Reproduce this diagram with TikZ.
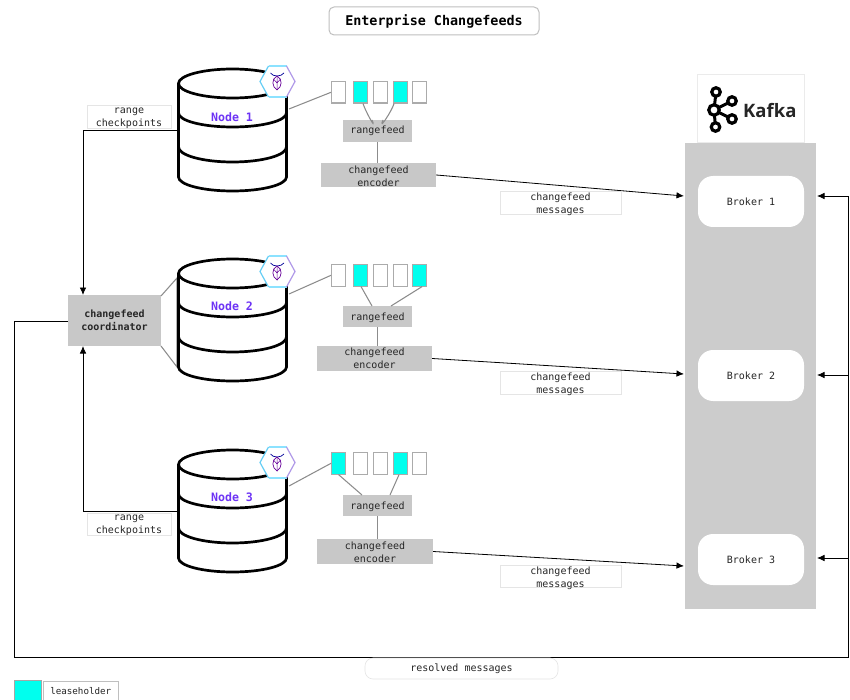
\documentclass[tikz,border=0pt]{standalone}
\usepackage{fontspec}
\setmonofont{DejaVu Sans Mono}
\setmainfont{DejaVu Sans}
\newfontfamily\kafkafont{Open Sans}
\usetikzlibrary{arrows.meta}
\definecolor{panelgray}{HTML}{CCCCCC}
\definecolor{boxgray}{HTML}{C8C8C8}
\definecolor{leasecyan}{HTML}{00FFEE}
\definecolor{nodepurple}{HTML}{6D33F5}
\newcommand{\lift}[1]{\rule{0pt}{#1pt}}
\newcommand{\nudged}[3]{\raisebox{#1pt}[0pt][0pt]{\begin{tabular}{@{}c@{}}#2\\#3\end{tabular}}}
\tikzset{
  x=1pt,y=-1pt,
  pxbox/.style n args={4}{minimum width=#3-#1,minimum height=#4-#2,at={({(#1+#3)/2},{(#2+#4)/2})}},
  mono/.style={font=\ttfamily\fontsize{10}{13}\selectfont,align=center,inner sep=0pt,text=black!85},
  graybox/.style={mono,fill=boxgray,draw=none},
  labelbox/.style={mono,fill=white,draw=black!10,line width=.6pt},
  brokerbox/.style={mono,fill=white,draw=none,rounded corners=15pt},
  rangewhite/.style={draw=black!33,fill=white,line width=1.1pt,inner sep=0pt},
  rangecyan/.style={rangewhite,fill=leasecyan},
  dbline/.style={line width=2.7pt,black},
  linkgray/.style={draw=black!45,line width=1.05pt},
  flow/.style={draw=black,line width=.8pt,-{Latex[length=7.5pt,width=6.5pt]}},
  plainflow/.style={draw=black,line width=.8pt},
  dbname/.style={font=\ttfamily\bfseries\fontsize{11.6}{14}\selectfont,text=nodepurple,inner sep=0pt},
  ring/.style={draw=black,line width=3.2pt,fill=white,circle,inner sep=0pt},
}
\newcommand{\dbstack}[4]{%
  \node[minimum width=108pt,minimum height=122pt,inner sep=0pt] (#1) at (232.5,{130+#2}) {};
  \begin{scope}[shift={(0,#2)}]
    \draw[dbline,line cap=round] (178.5,83.5) -- (178.5,177) arc[start angle=180,end angle=360,x radius=54pt,y radius=14pt] -- (286.5,83.5);
    \draw[dbline] (232.5,83.5) ellipse [x radius=54pt,y radius=14.5pt];
    \draw[dbline] (178.5,113) arc[start angle=180,end angle=360,x radius=54pt,y radius=14pt];
    \draw[dbline] (178.5,147) arc[start angle=180,end angle=360,x radius=54pt,y radius=15pt];
    \fill[white] (260,81.5) -- (268.5,66) -- (286.5,66) -- (295,81.5) -- (286.5,97) -- (268.5,97) -- cycle;
    \draw[color=cyan!60,line width=1.2pt,line join=round] (268.5,97) -- (260,81.5) -- (268.5,66);
    \draw[color=blue!25!cyan!45,line width=1.2pt] (268.5,66) -- (286.5,66);
    \draw[color=blue!25!cyan!45,line width=1.2pt] (268.5,97) -- (286.5,97);
    \draw[color=violet!45!blue!40,line width=1.2pt,line join=round] (286.5,66) -- (295,81.5) -- (286.5,97);
    \draw[color=blue!60!black,line width=.7pt] (270.5,73) .. controls (273,77) and (281,77) .. (284,73);
    \draw[color=violet!80!blue,line width=.7pt] (277,76) .. controls (271,79) and (272,87) .. (277,90) .. controls (282,87) and (283,79) .. (277,76);
    \draw[color=violet!80!blue,line width=.5pt] (277,76) -- (277,90) (273.5,79) -- (277,83) -- (280.5,79);
    \node[dbname] (#1name) at (232,#4) {#3};
  \end{scope}
}
\begin{document}
\begin{tikzpicture}
\useasboundingbox (0,0) rectangle (850,700);
\fill[white] (0,0) rectangle (850,700);

% title
\node[pxbox={329}{7}{539}{35},draw=black!25,line width=1pt,rounded corners=5pt,inner sep=0pt,font=\ttfamily\bfseries\fontsize{13.4}{16}\selectfont] (title) {Enterprise Changefeeds};

% kafka
\node[pxbox={685}{143}{816}{609},fill=panelgray,inner sep=0pt] (panel) {};
\node[pxbox={697}{74}{804}{142},fill=white,draw=black!8,line width=.6pt,inner sep=0pt] (kafkabox) {};
\draw[black,line width=3pt] (716,92) -- (714,110) -- (715.5,127) (714,110) -- (732,101) (714,110) -- (732,119);
\foreach \nm/\px/\py/\sz in {ka/716/92/8.5,kb/714/110/10.5,kc/715.5/127/8.5,kd/732/101/8.5,ke/732/119/8.5}{
  \node[ring,minimum size=\sz pt] (\nm) at (\px,\py) {};
}
\node[font=\kafkafont\bfseries\fontsize{18.5}{20}\selectfont,text=black!85,inner sep=0pt,anchor=west] (kafkaname) at (743,111) {Kafka};
\node[brokerbox,pxbox={698}{176}{804}{227}] (broker1) {Broker 1};
\node[brokerbox,pxbox={698}{350}{804}{401}] (broker2) {Broker 2};
\node[brokerbox,pxbox={698}{534}{804}{585}] (broker3) {Broker 3};
\coordinate (b1in) at (684,196);
\coordinate (b2in) at (684,374);
\coordinate (b3in) at (684,566);
\coordinate (b1out) at (817,196);
\coordinate (b2out) at (817,375);
\coordinate (b3out) at (817,558);

% databases 1 and 3
\dbstack{db1}{0}{Node 1}{117}
\dbstack{db3}{381}{Node 3}{116}

% coordinator with its gray links, then database 2
\node[graybox,pxbox={68}{295}{161}{346},font=\ttfamily\bfseries\fontsize{10}{13}\selectfont] (coord) {changefeed\\coordinator};
\coordinate (cu) at (83,295);
\coordinate (cd) at (83,346);
\coordinate (cl) at (68,321);
\coordinate (cne) at (161,296);
\coordinate (cse) at (161,346);
\coordinate (d2ne) at (177,278);
\coordinate (d2se) at (177,367);
\draw[linkgray] (cne) -- (d2ne) -- (d2se) -- (cse);
\dbstack{db2}{190}{Node 2}{116}

% range boxes
\foreach \g/\dy/\cols in {1/0/{rangewhite,rangecyan,rangewhite,rangecyan,rangewhite},2/183/{rangewhite,rangecyan,rangewhite,rangewhite,rangecyan},3/371/{rangecyan,rangewhite,rangewhite,rangecyan,rangewhite}}{
  \foreach \cc [count=\i] in \cols {
    \pgfmathsetmacro{\xa}{{331,352.5,372.5,392.5,411.5}[\i-1]}
    \node[\cc,minimum width=14pt,minimum height=21.5pt,anchor=north west] (r\g\i) at (\xa,{81+\dy}) {};
  }
}
% rangefeed and encoder boxes
\node[graybox,pxbox={343}{120}{412}{142}] (rf1) {rangefeed};
\node[graybox,pxbox={343}{306}{412}{327}] (rf2) {\lift{9.6}rangefeed};
\node[graybox,pxbox={343}{495}{412}{516}] (rf3) {\lift{9.6}rangefeed};
\node[graybox,pxbox={321}{163}{436}{187}] (enc1) {\lift{9.6}changefeed\\encoder};
\node[graybox,pxbox={317}{346}{432}{371}] (enc2) {changefeed\\encoder};
\node[graybox,pxbox={317}{539}{433}{564}] (enc3) {\lift{8.6}changefeed\\encoder};

% gray links
\coordinate (o1) at (289,109); \coordinate (o2) at (289,294); \coordinate (o3) at (289,486);
\draw[linkgray] (o1) -- (r11.west);
\draw[linkgray] (o2) -- (r21.west);
\draw[linkgray] (o3) -- (r31.west);
\coordinate (t11) at (372,120); \coordinate (t12) at (383,120);
\coordinate (t21) at (372,306); \coordinate (t22) at (391,306);
\coordinate (t31) at (362,495); \coordinate (t32) at (390,495);
\draw[linkgray] (r12.south) ++(3,0) .. controls +(2,7) and +(5,12) .. (t11);
\draw[linkgray] (r14.south) ++(-6,0) .. controls +(-2,7) and +(-5,12) .. (t12);
\draw[linkgray] (r22.south) ++(1,0) -- (t21);
\draw[linkgray] (r25.south) ++(3,0) -- (t22);
\draw[linkgray] (r31.south) -- (t31);
\draw[linkgray] (r34.south) ++(-1,0) -- (t32);
\draw[linkgray] (rf1.south) -- (rf1.south |- enc1.north);
\draw[linkgray] (rf2.south) -- (rf2.south |- enc2.north);
\draw[linkgray] (rf3.south) -- (rf3.south |- enc3.north);

% encoder to broker
\draw[flow] (enc1.east) -- (b1in);
\draw[flow] (enc2.east) -- (b2in);
\draw[flow] (enc3.east) -- (b3in);

% checkpoints
\coordinate (d1w) at (177,130);
\coordinate (d3w) at (177,511);
\draw[flow] (d1w) -| (cu);
\draw[flow] (d3w) -| (cd);

% resolved
\coordinate (c1) at (14,321);
\coordinate (c2) at (14,657);
\coordinate (c3) at (848,657);
\coordinate (c4) at (848,196);
\draw[plainflow] (cl) -- (c1) -- (c2) -- (c3) -- (c4);
\draw[flow] (c4) -- (b1out);
\coordinate (c5) at (848,375);
\coordinate (c6) at (848,558);
\draw[flow] (c5) -- (b2out);
\draw[flow] (c6) -- (b3out);

% labels
\node[labelbox,pxbox={87}{105}{171}{128}] (lab1) {\nudged{-3}{range}{checkpoints}};
\node[labelbox,pxbox={87}{513}{171}{535}] (lab2) {\nudged{-3.2}{range}{checkpoints}};
\node[labelbox,pxbox={500}{191}{621}{214}] (msg1) {\nudged{-4.5}{changefeed}{messages}};
\node[labelbox,pxbox={500}{371}{621}{394}] (msg2) {\nudged{-4.5}{changefeed}{messages}};
\node[labelbox,pxbox={500}{565}{621}{587}] (msg3) {\nudged{-4.5}{changefeed}{messages}};
\node[labelbox,pxbox={365}{658}{558}{679},rounded corners=8pt] (resolved) {resolved messages};

% legend
\node[pxbox={14}{680}{41}{700},fill=leasecyan,draw=black!35,line width=.8pt,inner sep=0pt] (legendswatch) {};
\node[labelbox,pxbox={43.5}{681.5}{118}{700},draw=black!25,font=\ttfamily\fontsize{9.2}{11}\selectfont] (legendtext) {leaseholder};
\end{tikzpicture}
\end{document}
